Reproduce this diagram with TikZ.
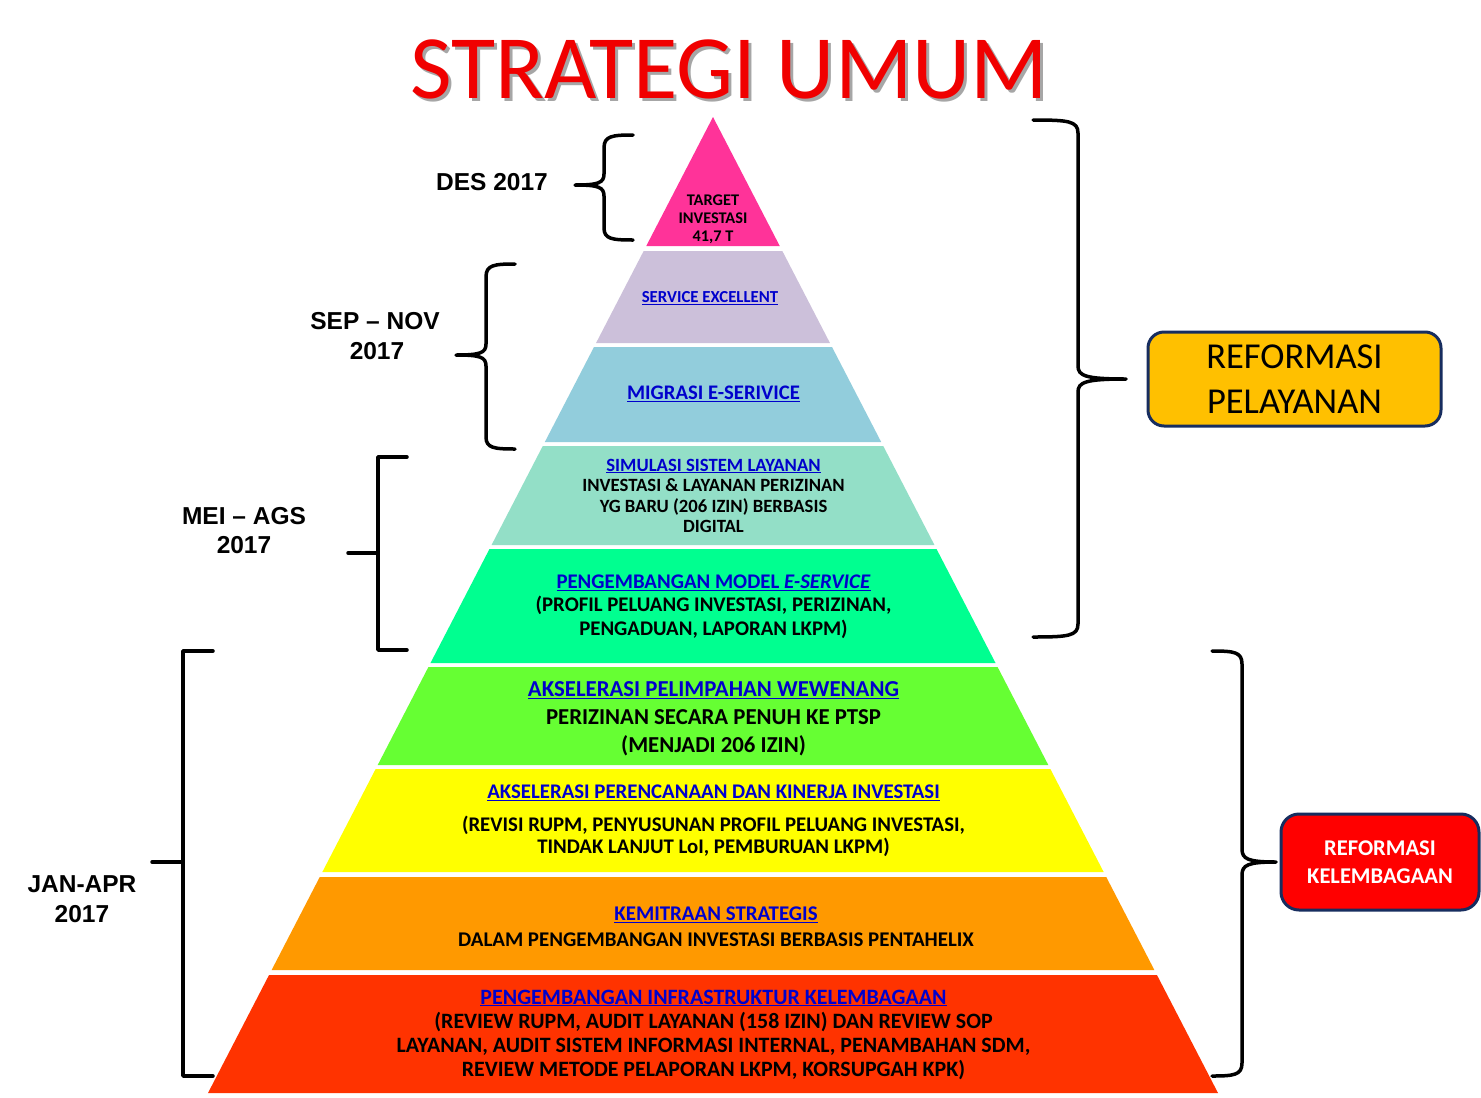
\documentclass[tikz,border=0pt]{standalone}
\usepackage{fontspec}
\setmainfont{Carlito}
\newfontfamily\arialf{Liberation Sans}
\definecolor{cpink}{RGB}{255,51,153}
\definecolor{clav}{RGB}{204,192,218}
\definecolor{cblue}{RGB}{146,205,220}
\definecolor{cmint}{RGB}{147,223,199}
\definecolor{cgreen}{RGB}{0,255,144}
\definecolor{clime}{RGB}{102,255,51}
\definecolor{cyel}{RGB}{255,255,0}
\definecolor{corange}{RGB}{255,153,0}
\definecolor{cred}{RGB}{255,51,0}
\definecolor{clink}{RGB}{0,0,204}
\definecolor{cgold}{RGB}{255,192,0}
\definecolor{cnavy}{RGB}{23,45,95}
\definecolor{ctitle}{RGB}{240,0,0}
\newcommand\fsz[1]{\fontsize{#1}{#1}\selectfont}
\newcommand\lnk[1]{\textcolor{clink}{\underline{#1}}}
\newcommand\pyrlayer[4]{%
  \pgfmathsetmacro\dtop{0.51742*(#1-117)}%
  \pgfmathsetmacro\dbot{0.51742*(#2-117)}%
  \fill[#3] ({713-\dtop},#1) -- ({713+\dtop},#1) -- ({713+\dbot},#2) -- ({713-\dbot},#2) -- cycle;
  \coordinate (#4) at (713,{(#1+#2)/2});}
\tikzset{
  lbl/.style={anchor=base, inner sep=0pt, font=\arialf\bfseries\fsz{24.5}},
  ptxt/.style={anchor=base, inner sep=0pt, text=black},
  bracepath/.style={line width=3.5pt, line join=round, line cap=round},
}
\begin{document}
\begin{tikzpicture}[x=1pt,y=-1pt]
\useasboundingbox (0,0) rectangle (1481,1098);
\fill[white] (0,0) rectangle (1481,1098);
% title with soft shadow
\node[anchor=base, inner sep=0pt, text=ctitle, font=\fsz{90.5},
  preaction={}] (title) at (729,98)
  {\rlap{\hspace{3pt}\raisebox{-3pt}{\textcolor{black!35}{STRATEGI UMUM}}}STRATEGI UMUM};
% pyramid layers
\pyrlayer{117}{246}{cpink}{L1}
\pyrlayer{251}{343}{clav}{L2}
\pyrlayer{347}{442}{cblue}{L3}
\pyrlayer{446}{545}{cmint}{L4}
\pyrlayer{549}{663}{cgreen}{L5}
\pyrlayer{667}{765}{clime}{L6}
\pyrlayer{769}{872}{cyel}{L7}
\pyrlayer{877}{970}{corange}{L8}
\pyrlayer{975}{1093}{cred}{L9}
% layer texts
\begin{scope}[every node/.append style={ptxt}]
\node[font=\bfseries\fsz{16.3}] (t1a) at (713,205.5) {TARGET};
\node[font=\bfseries\fsz{16.3}] (t1b) at (713,223.5) {INVESTASI};
\node[font=\bfseries\fsz{16.3}] (t1c) at (713,241.5) {41,7 T};
\node[font=\bfseries\fsz{16.8}] (t2a) at (710,302.5) {\lnk{SERVICE EXCELLENT}};
\node[font=\bfseries\fsz{20.7}] (t3a) at (713.5,399.7) {\lnk{MIGRASI E-SERIVICE}};
\node[font=\bfseries\fsz{18.7}] (t4a) at (713.5,471) {\lnk{SIMULASI SISTEM LAYANAN}};
\node[font=\bfseries\fsz{18.7}] (t4b) at (713.5,491) {INVESTASI \& LAYANAN PERIZINAN};
\node[font=\bfseries\fsz{18.7}] (t4c) at (713.5,512) {YG BARU (206 IZIN) BERBASIS};
\node[font=\bfseries\fsz{18.7}] (t4d) at (713.5,532) {DIGITAL};
\node[font=\bfseries\fsz{20.8}] (t5a) at (713.5,588.7) {\lnk{PENGEMBANGAN MODEL \textit{E-SERVICE}}};
\node[font=\bfseries\fsz{20.8}] (t5b) at (713.5,611.7) {(PROFIL PELUANG INVESTASI, PERIZINAN,};
\node[font=\bfseries\fsz{20.8}] (t5c) at (713.5,635.7) {PENGADUAN, LAPORAN LKPM)};
\node[font=\bfseries\fsz{22.8}] (t6a) at (713.5,696.3) {\lnk{AKSELERASI PELIMPAHAN WEWENANG}};
\node[font=\bfseries\fsz{22.8}] (t6b) at (713.5,724.3) {PERIZINAN SECARA PENUH KE PTSP};
\node[font=\bfseries\fsz{22.8}] (t6c) at (713.5,752.3) {(MENJADI 206 IZIN)};
\node[font=\bfseries\fsz{20.8}] (t7a) at (713.5,798.7) {\lnk{AKSELERASI PERENCANAAN DAN KINERJA INVESTASI}};
\node[font=\bfseries\fsz{20.8}] (t7b) at (713.5,831.7) {(REVISI RUPM, PENYUSUNAN PROFIL PELUANG INVESTASI,};
\node[font=\bfseries\fsz{20.8}] (t7c) at (713.5,853.7) {TINDAK LANJUT LoI, PEMBURUAN LKPM)};
\node[font=\bfseries\fsz{20.9}] (t8a) at (716,920.7) {\lnk{KEMITRAAN STRATEGIS}};
\node[font=\bfseries\fsz{20.9}] (t8b) at (716,946.7) {DALAM PENGEMBANGAN INVESTASI BERBASIS PENTAHELIX};
\node[font=\bfseries\fsz{21.9}] (t9a) at (713.5,1004) {\lnk{PENGEMBANGAN INFRASTRUKTUR KELEMBAGAAN}};
\node[font=\bfseries\fsz{21.9}] (t9b) at (713.5,1028) {(REVIEW RUPM, AUDIT LAYANAN (158 IZIN) DAN REVIEW SOP};
\node[font=\bfseries\fsz{21.9}] (t9c) at (713.5,1052) {LAYANAN, AUDIT SISTEM INFORMASI INTERNAL, PENAMBAHAN SDM,};
\node[font=\bfseries\fsz{21.9}] (t9d) at (713.5,1076) {REVIEW METODE PELAPORAN LKPM, KORSUPGAH KPK)};
\end{scope}
% left labels
\node[lbl] (des) at (492,190.8) {DES 2017};
\node[lbl] (sepa) at (375,329.8) {SEP – NOV};
\node[lbl] (sepb) at (377,359.8) {2017};
\node[lbl] (meia) at (244,524.8) {MEI – AGS};
\node[lbl] (meib) at (244,553.8) {2017};
\node[lbl] (jana) at (82,892.8) {JAN-APR};
\node[lbl] (janb) at (82,922.8) {2017};
% braces (left side)
\draw[bracepath] (633,135) .. controls (612,135) and (604,136) .. (604,148) -- (604,174)
  .. controls (604,183) and (598,185) .. (575,185)
  .. controls (598,185) and (604,187) .. (604,196) -- (604,228)
  .. controls (604,239) and (612,240) .. (633,240);
\draw[bracepath] (515,264) .. controls (494,264) and (486,265) .. (486,277) -- (486,344)
  .. controls (486,353) and (480,355) .. (456,355)
  .. controls (480,355) and (486,357) .. (486,366) -- (486,437)
  .. controls (486,448) and (494,449) .. (515,449);
\draw[bracepath] (407,457) -- (378,457) -- (378,650) -- (407,650);
\draw[bracepath] (348,553) -- (378,553);
\draw[bracepath] (213,651) -- (183,651) -- (183,1076) -- (213,1076);
\draw[bracepath] (152,862) -- (183,862);
% braces (right side)
\draw[bracepath] (1033,120) .. controls (1068,120) and (1078,121) .. (1078,133) -- (1078,366)
  .. controls (1078,376) and (1086,379) .. (1126,379)
  .. controls (1086,379) and (1078,382) .. (1078,392) -- (1078,624)
  .. controls (1078,636) and (1068,637) .. (1033,637);
\draw[bracepath] (1212,651) .. controls (1234,651) and (1242,652) .. (1242,664) -- (1242,849)
  .. controls (1242,859) and (1248,862) .. (1276,862)
  .. controls (1248,862) and (1242,865) .. (1242,875) -- (1242,1063)
  .. controls (1242,1075) and (1234,1076) .. (1212,1076);
% boxes
\node[draw=cnavy, line width=3pt, fill=cgold, rounded corners=16pt,
  minimum width=293pt, minimum height=94pt, inner sep=0pt] (rp) at (1294.5,379) {};
\node[anchor=base, inner sep=0pt, font=\fsz{36.5}] (rpa) at (1294.5,368.75) {REFORMASI};
\node[anchor=base, inner sep=0pt, font=\fsz{36.5}] (rpb) at (1294.5,413.75) {PELAYANAN};
\node[draw=cnavy, line width=3pt, fill=red, rounded corners=18pt,
  minimum width=198pt, minimum height=96pt, inner sep=0pt] (rk) at (1380,862) {};
\node[anchor=base, inner sep=0pt, text=white, font=\bfseries\fsz{22.5}] (rka) at (1380,855.25) {REFORMASI};
\node[anchor=base, inner sep=0pt, text=white, font=\bfseries\fsz{22.5}] (rkb) at (1380,883.25) {KELEMBAGAAN};
\end{tikzpicture}
\end{document}
